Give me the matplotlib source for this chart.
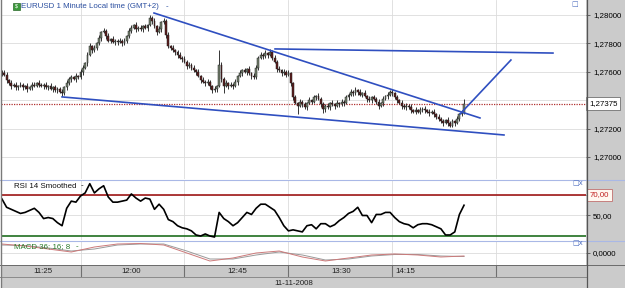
import matplotlib
matplotlib.use('Agg')
import matplotlib.pyplot as plt
from matplotlib.patches import Rectangle
from matplotlib.lines import Line2D
import numpy as np

# EURUSD 1 minute candles, closes in pips above 1.27000 (one per minute)
first_open = 60
close_pips = [59, 58, 54, 52, 50, 51, 49, 50, 51, 49,
              50, 48, 49, 51, 50, 52, 51, 50, 51, 49,
              50, 48, 49, 47, 48, 46, 45, 49, 52, 55,
              56, 55, 57, 56, 60, 63, 66, 72, 78, 75,
              77, 80, 84, 88, 89, 85, 82, 83, 81, 82,
              81, 82, 80, 82, 85, 89, 91, 93, 90, 91,
              90, 92, 91, 93, 98, 96, 92, 88, 90, 95,
              96, 86, 78, 77, 75, 74, 72, 70, 69, 67,
              64, 65, 63, 61, 60, 57, 54, 53, 52, 53,
              50, 47, 48, 50, 65, 55, 50, 52, 50, 51,
              50, 53, 57, 59, 61, 60, 62, 59, 57, 56,
              63, 70, 72, 71, 73, 72, 74, 70, 67, 62,
              61, 59, 60, 58, 59, 52, 42, 38, 36, 39,
              37, 35, 38, 40, 39, 42, 43, 41, 37, 34,
              36, 35, 38, 37, 36, 38, 37, 39, 38, 42,
              44, 46, 45, 47, 46, 44, 45, 43, 41, 40,
              42, 41, 39, 36, 38, 41, 43, 44, 46, 45,
              42, 40, 38, 36, 35, 36, 35, 33, 32, 33,
              32, 33, 34, 33, 32, 31, 32, 30, 28, 27,
              25, 24, 26, 24, 22, 25, 24, 27, 30, 31,
              37.5]
# wick length above / below the body, pips
wick_up = [1, 2, 2, 1, 2, 1, 2, 1, 2, 1, 1, 2, 1, 2, 2, 1, 2, 1, 1, 2,
           1, 2, 1, 2, 1, 1, 2, 1, 2, 1, 2, 1, 2, 1, 2, 2, 1, 2, 2, 1,
           2, 1, 2, 1, 2, 1, 2, 1, 2, 1, 1, 2, 1, 2, 1, 2, 2, 1, 2, 1,
           2, 1, 2, 1, 2, 1, 2, 1, 2, 1, 2, 1, 2, 1, 2, 1, 1, 2, 1, 2,
           1, 2, 1, 2, 1, 2, 1, 2, 1, 2, 1, 1, 2, 1, 10, 2, 1, 2, 1, 2,
           1, 2, 1, 2, 1, 2, 1, 2, 1, 2, 2, 1, 2, 1, 2, 1, 2, 1, 2, 1,
           2, 1, 2, 1, 2, 1, 1, 2, 1, 2, 1, 2, 1, 2, 1, 2, 1, 2, 1, 2,
           1, 2, 1, 2, 1, 2, 1, 2, 1, 2, 1, 2, 1, 2, 1, 2, 1, 2, 1, 2,
           1, 2, 1, 2, 1, 2, 1, 2, 1, 2, 1, 2, 1, 2, 1, 2, 1, 2, 1, 2,
           1, 2, 1, 2, 1, 2, 1, 2, 1, 2, 1, 2, 1, 2, 1, 2, 1, 2, 1, 2,
           3]
wick_dn = [2, 1, 2, 1, 2, 1, 2, 2, 1, 2, 1, 2, 1, 2, 1, 1, 2, 1, 2, 1,
           2, 1, 2, 1, 2, 1, 2, 1, 2, 1, 2, 1, 2, 1, 1, 2, 1, 2, 1, 2,
           1, 2, 1, 2, 1, 2, 1, 2, 1, 2, 2, 1, 2, 1, 2, 1, 2, 1, 2, 1,
           1, 2, 1, 2, 1, 2, 1, 2, 1, 2, 1, 2, 1, 2, 1, 2, 2, 1, 2, 1,
           2, 1, 2, 1, 2, 1, 2, 1, 2, 1, 2, 2, 1, 2, 1, 2, 5, 1, 2, 1,
           2, 1, 2, 1, 2, 1, 2, 1, 2, 1, 1, 2, 1, 2, 1, 2, 1, 2, 1, 2,
           1, 2, 1, 2, 1, 2, 2, 1, 6, 1, 2, 1, 2, 1, 2, 1, 2, 1, 2, 3,
           2, 1, 2, 1, 2, 1, 2, 1, 2, 1, 2, 1, 2, 1, 2, 1, 2, 1, 2, 1,
           2, 1, 2, 2, 1, 2, 1, 2, 1, 2, 1, 2, 1, 2, 1, 2, 1, 2, 1, 2,
           1, 2, 1, 2, 1, 2, 1, 2, 1, 2, 1, 2, 1, 2, 1, 1, 2, 1, 2, 1,
           1]

# RSI 14 smoothed, one reading every 2 minutes
rsi_step = 2
rsi = [66, 58, 56, 54, 52, 53, 55, 57, 53, 47,
       48, 47, 43, 40, 57, 64, 63, 69, 72, 81,
       72, 76, 79, 68, 63, 63, 64, 65, 71, 67,
       64, 67, 66, 56, 61, 56, 46, 44, 40, 38,
       37, 35, 31, 30, 32, 30, 29, 53, 47, 44,
       40, 43, 48, 53, 51, 57, 61, 61, 58, 55,
       48, 40, 35, 36, 35, 34, 40, 41, 37, 42,
       42, 39, 41, 45, 48, 52, 54, 58, 50, 50,
       43, 51, 51, 53, 53, 48, 44, 42, 41, 38,
       41, 42, 42, 41, 39, 37, 31, 31, 34, 51,
       60]

# MACD 36;16;8, one reading every 10 minutes, units of 1e-4
macd_step = 10
macd_line = [9, 7, 4, 1, 6, 9, 9.5, 8, 0, -8, -5, 0, 2, -4, -8, -5, -2, -1, -2, -4, -3]
macd_signal = [8, 7.5, 5, 2, 4, 8, 9, 9, 2, -6, -6, -2, 1, -2, -7, -6, -3, -1.5, -1.5, -3, -3.5]

# trend lines drawn by hand on the chart: (minute, price)
trend_lines = [[(65.8, 1.28014), (206.9, 1.27275)],
               [(118.2, 1.27761), (238.5, 1.27732)],
               [(26.0, 1.27423), (217.3, 1.27155)],
               [(198.3, 1.27303), (220.3, 1.27683)]]
last_price = 1.27375

price_ticks = [1.270, 1.272, 1.274, 1.276, 1.278, 1.280]
price_labels = ['1,27000', '1,27200', '', '1,27600', '1,27800', '1,28000']
grid_minutes = [34, 79, 124, 169, 214]
time_labels = ['11:25', '12:00', '12:45', '13:30', '14:15']
time_label_minutes = [17.7, 56.0, 101.7, 146.8, 174.5]
date_label = '11-11-2008'

plt.rcParams['font.family'] = ['Liberation Sans', 'DejaVu Sans']
W, H = 625, 288
fig = plt.figure(figsize=(W / 100, H / 100), dpi=100)
fig.patch.set_facecolor('white')


def rect(x0, y0, x1, y1):
    # pixel box (y down from top) -> figure fraction
    return [x0 / W, 1 - y1 / H, (x1 - x0) / W, (y1 - y0) / H]


XLIM = (-0.43, 252.8)
FS = 5.7
GRID = '#dcdcdc'


def base(ax):
    ax.set_xlim(*XLIM)
    for s in ax.spines.values():
        s.set_visible(False)
    ax.set_xticks(grid_minutes)
    ax.tick_params(axis='x', length=0, labelbottom=False)
    ax.yaxis.tick_right()
    ax.tick_params(axis='y', labelsize=FS, length=3, width=0.6, color='#505050', pad=2)
    ax.grid(True, color=GRID, lw=0.6, zorder=0)
    ax.set_axisbelow(True)


# ---- price panel ----
ax = fig.add_axes(rect(1, 0, 586, 179))
base(ax)
ax.set_ylim(1.26845, 1.281056)
ax.set_yticks(price_ticks)
ax.set_yticklabels(price_labels)

t = np.arange(len(close_pips))
close = 1.27 + np.array(close_pips) / 1e4
opn = np.r_[1.27 + first_open / 1e4, close[:-1]]
high = np.maximum(opn, close) + np.array(wick_up) / 1e4
low = np.minimum(opn, close) - np.array(wick_dn) / 1e4
col = np.where(close >= opn, '#75836f', '#5e1c1c')
ax.vlines(t, low, high, colors='#262626', lw=0.65, zorder=3)
ax.bar(t, np.maximum(np.abs(close - opn), 0.00005), bottom=np.minimum(opn, close),
       width=0.8, color=col, edgecolor='#202020', linewidth=0.35, zorder=4)

ax.axhline(last_price, color='#b03030', lw=0.9, ls=(0, (1, 1)), zorder=2)
for (x0, y0), (x1, y1) in trend_lines:
    ax.plot([x0, x1], [y0, y1], color='#2f4fc0', lw=1.2, zorder=5)

ax.text(1.005, last_price, '1,27375', transform=ax.get_yaxis_transform(), ha='left',
        va='center', fontsize=FS, clip_on=False,
        bbox=dict(boxstyle='square,pad=0.35', fc='white', ec='#707070', lw=0.6))

# ---- RSI panel ----
ax_r = fig.add_axes(rect(1, 180, 586, 240))
base(ax_r)
ax_r.set_ylim(26.1, 84.6)
ax_r.set_yticks([50, 70])
ax_r.set_yticklabels(['50,00', ''])
ax_r.plot(np.arange(len(rsi)) * rsi_step, rsi, color='black', lw=1.2, zorder=4)
ax_r.axhline(70, color='#a01818', lw=1.2, zorder=3)
ax_r.axhline(30, color='#1f6e1f', lw=1.2, zorder=3)
ax_r.text(1.006, 70, '70,00', transform=ax_r.get_yaxis_transform(), ha='left',
          va='center', fontsize=FS, color='#c02020', clip_on=False,
          bbox=dict(boxstyle='square,pad=0.35', fc='#fff8f0', ec='#c07070', lw=0.6))

# ---- MACD panel ----
ax_m = fig.add_axes(rect(1, 241, 586, 265))
base(ax_m)
ax_m.set_ylim(-12, 12)
ax_m.set_yticks([0])
ax_m.set_yticklabels(['0,0000'])
tm = np.arange(len(macd_line)) * macd_step
ax_m.plot(tm, macd_signal, color='#9a9a9a', lw=0.7, zorder=3)
ax_m.plot(tm, macd_line, color='#cc7a7a', lw=0.7, zorder=4)

# ---- time and date bars ----
ax_t = fig.add_axes(rect(1, 265, 586, 277))
ax_t.set_xlim(*XLIM)
ax_t.set_ylim(0, 1)
ax_t.set_facecolor('#c8c8c8')
ax_t.set_xticks([])
ax_t.set_yticks([])
for s in ax_t.spines.values():
    s.set_visible(False)
for g in grid_minutes:
    ax_t.axvline(g, color='#707070', lw=0.8)
for lab, m in zip(time_labels, time_label_minutes):
    ax_t.text(m, 0.45, lab, ha='center', va='center', fontsize=FS, color='#202020')

ax_d = fig.add_axes(rect(1, 277, 586, 288))
ax_d.set_xlim(0, 1)
ax_d.set_ylim(0, 1)
ax_d.set_facecolor('#cdcdcd')
ax_d.set_xticks([])
ax_d.set_yticks([])
for s in ax_d.spines.values():
    s.set_visible(False)
ax_d.text(0.5, 0.45, date_label, ha='center', va='center', fontsize=FS, color='#202020')

# ---- frame: right scale panel, separators ----
fig.add_artist(Rectangle((586 / W, 0), 39 / W, 1, transform=fig.transFigure,
                         fc='#cbcbcb', ec='none', zorder=-1))


def hline(py, x0, x1, c, lw=0.8):
    fig.add_artist(Line2D([x0 / W, x1 / W], [1 - py / H] * 2, color=c, lw=lw))


def vline(px, y0, y1, c, lw=0.8):
    fig.add_artist(Line2D([px / W] * 2, [1 - y0 / H, 1 - y1 / H], color=c, lw=lw))


hline(179.5, 0, 625, '#a9b8e6')
hline(240.5, 0, 625, '#a9b8e6')
hline(265, 0, 625, '#6a6a6a', 0.7)
hline(277, 0, 586, '#8a8a8a', 0.7)
vline(586.5, 0, 288, '#555555', 0.9)
vline(0.5, 0, 288, '#7a7a7a', 1.0)

# panel titles and window icons
fig.add_artist(Rectangle((13 / W, 1 - 10 / H), 7 / W, 7 / H, transform=fig.transFigure,
                         fc='#3c9a3c', ec='#2a6a2a', lw=0.5))
fig.text(16.5 / W, 1 - 6.5 / H, '$', fontsize=4, color='white', ha='center', va='center')
fig.text(21 / W, 1 - 6.5 / H, 'EURUSD 1 Minute Local time (GMT+2)', fontsize=FS,
         color='#2b4fa0', va='center')
fig.text(166 / W, 1 - 6.5 / H, '-', fontsize=FS, color='#2b4fa0', va='center')
fig.text(14 / W, 1 - 186 / H, 'RSI 14 Smoothed', fontsize=FS, color='#111111', va='center')
fig.text(81 / W, 1 - 186 / H, '-', fontsize=FS, color='#111111', va='center')
fig.text(14 / W, 1 - 247 / H, 'MACD 36; 16; 8', fontsize=FS, color='#2a7a2a', va='center')
fig.text(76 / W, 1 - 247 / H, '-', fontsize=FS, color='#2a7a2a', va='center')
fig.text(575 / W, 1 - 4.5 / H, '\u25a1', fontsize=5, color='#5070c0', ha='center', va='center',
         family='DejaVu Sans')
for py in (183.5, 243.5):
    fig.text(578 / W, 1 - py / H, '\u25a1x', fontsize=5, color='#5070c0', ha='center',
             va='center', family='DejaVu Sans')

fig.savefig('out.png', dpi=100, facecolor='white')
